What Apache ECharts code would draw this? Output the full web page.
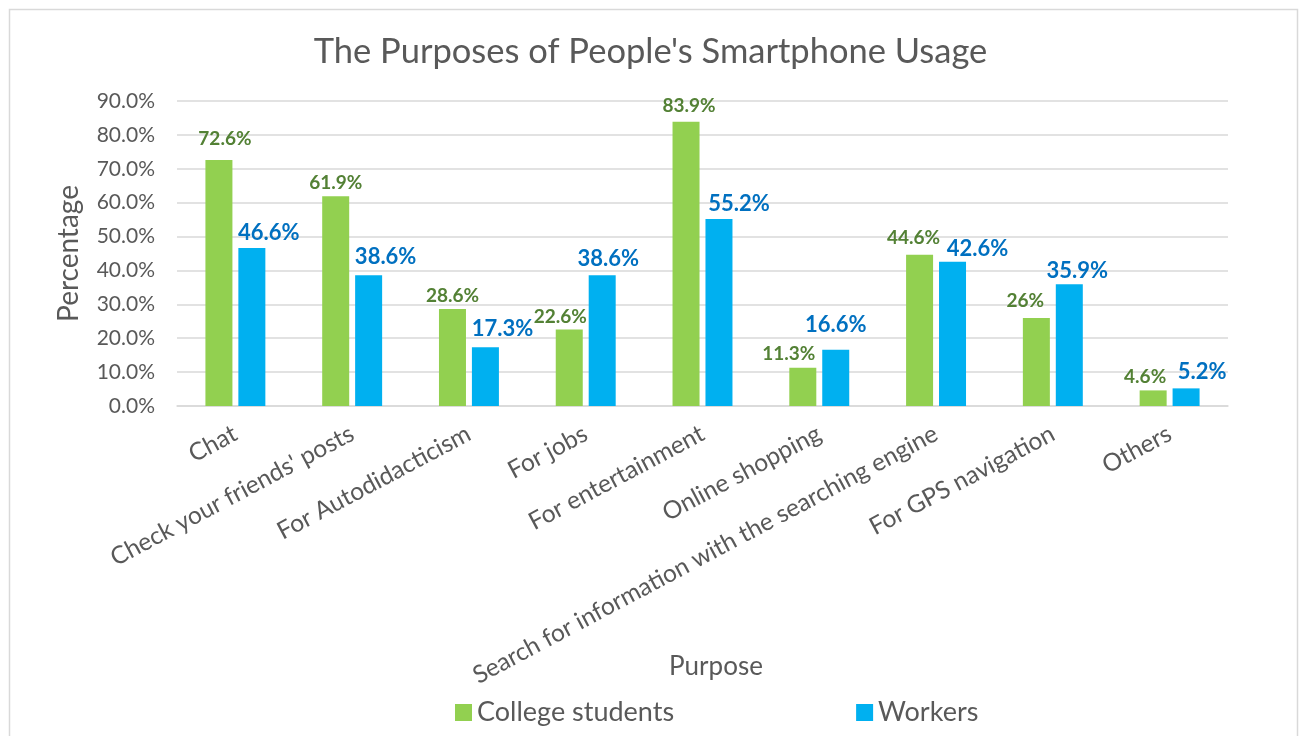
<!DOCTYPE html>
<html>
<head>
<meta charset="utf-8">
<script src="https://cdn.jsdelivr.net/npm/echarts@6/dist/echarts.min.js"></script>
<style>
  html, body { margin: 0; padding: 0; background: #fff; }
  #chart { width: 1301px; height: 736px; }
</style>
</head>
<body>
<div id="chart"></div>
<script>
const categories = [
  'Chat',
  "Check your friends' posts",
  'For Autodidacticism',
  'For jobs',
  'For entertainment',
  'Online shopping',
  'Search for information with the searching engine',
  'For GPS navigation',
  'Others'
];
const collegeStudents = [72.6, 61.9, 28.6, 22.6, 83.9, 11.3, 44.6, 26, 4.6];
const workers = [46.6, 38.6, 17.3, 38.6, 55.2, 16.6, 42.6, 35.9, 5.2];
const yTicks = { min: 0, max: 90, step: 10 };

// Hand-placed nudges [dx, dy] for the value labels so neighbours don't collide
const collegeLabelNudge = [[6, -5], [0, 3], [0, 3], [-9, 4], [3, 1], [-14, 3], [-6, 0], [-11, -1], [-8, 3]];
const workersLabelNudge = [[17, 3], [17, 0], [17, 0], [6, 2], [20, 3], [0, -7], [25, 5], [8, 5], [16, 2]];

const FONT = 'Lato, "Open Sans", sans-serif';
const GREY = '#595959';

const withNudge = (values, nudges) =>
  values.map((v, i) => ({ value: v, label: { offset: nudges[i] } }));

const chart = echarts.init(document.getElementById('chart'), null, { renderer: 'canvas' });

chart.setOption({
  animation: false,
  backgroundColor: '#fff',
  textStyle: { fontFamily: FONT },
  title: {
    text: "The Purposes of People's Smartphone Usage",
    left: 'center',
    top: 29,
    textStyle: { fontFamily: FONT, fontSize: 34.5, fontWeight: 'normal', color: GREY }
  },
  graphic: [
    {
      type: 'rect',
      left: 7, top: 7,
      shape: { width: 1288, height: 740 },
      style: { fill: 'none', stroke: '#D9D9D9', lineWidth: 1.5 },
      silent: true
    },
    {
      // x-axis title, placed below the rotated category labels
      type: 'text',
      x: 716, y: 667,
      style: {
        text: 'Purpose',
        fill: GREY,
        font: '26px ' + FONT,
        textAlign: 'center',
        textVerticalAlign: 'middle'
      },
      silent: true
    }
  ],
  legend: {
    bottom: 5,
    left: 450,
    itemWidth: 17,
    itemHeight: 17,
    itemGap: 182,
    icon: 'rect',
    textStyle: { fontFamily: FONT, fontSize: 27, color: GREY },
    data: ['College students', 'Workers']
  },
  grid: { left: 177, right: 73, top: 101, bottom: 330, containLabel: false },
  xAxis: {
    type: 'category',
    data: categories,
    axisLine: { lineStyle: { color: '#D9D9D9', width: 1.5 } },
    axisTick: { show: false },
    axisLabel: {
      interval: 0,
      rotate: 28,
      margin: 26,
      fontFamily: FONT,
      fontSize: 24.5,
      color: GREY
    }
  },
  yAxis: {
    type: 'value',
    min: yTicks.min,
    max: yTicks.max,
    interval: yTicks.step,
    name: 'Percentage',
    nameLocation: 'middle',
    nameGap: 94,
    nameTextStyle: { fontFamily: FONT, fontSize: 28, color: GREY },
    axisLine: { show: false },
    axisTick: { show: false },
    splitLine: { lineStyle: { color: '#D9D9D9', width: 1.5 } },
    axisLabel: {
      margin: 22,
      fontFamily: FONT,
      fontSize: 21,
      color: GREY,
      formatter: v => v.toFixed(1) + '%'
    }
  },
  series: [
    {
      name: 'College students',
      type: 'bar',
      data: withNudge(collegeStudents, collegeLabelNudge),
      barWidth: 27,
      barGap: '22%',
      itemStyle: { color: '#92D050' },
      label: {
        show: true,
        position: 'top',
        distance: 7,
        formatter: '{c}%',
        fontFamily: FONT,
        fontSize: 19,
        fontWeight: 'bold',
        color: '#538135'
      }
    },
    {
      name: 'Workers',
      type: 'bar',
      data: withNudge(workers, workersLabelNudge),
      barWidth: 27,
      itemStyle: { color: '#00B0F0' },
      label: {
        show: true,
        position: 'top',
        distance: 7,
        formatter: '{c}%',
        fontFamily: FONT,
        fontSize: 22,
        fontWeight: 'bold',
        color: '#0070C0'
      }
    }
  ]
});
</script>
</body>
</html>
